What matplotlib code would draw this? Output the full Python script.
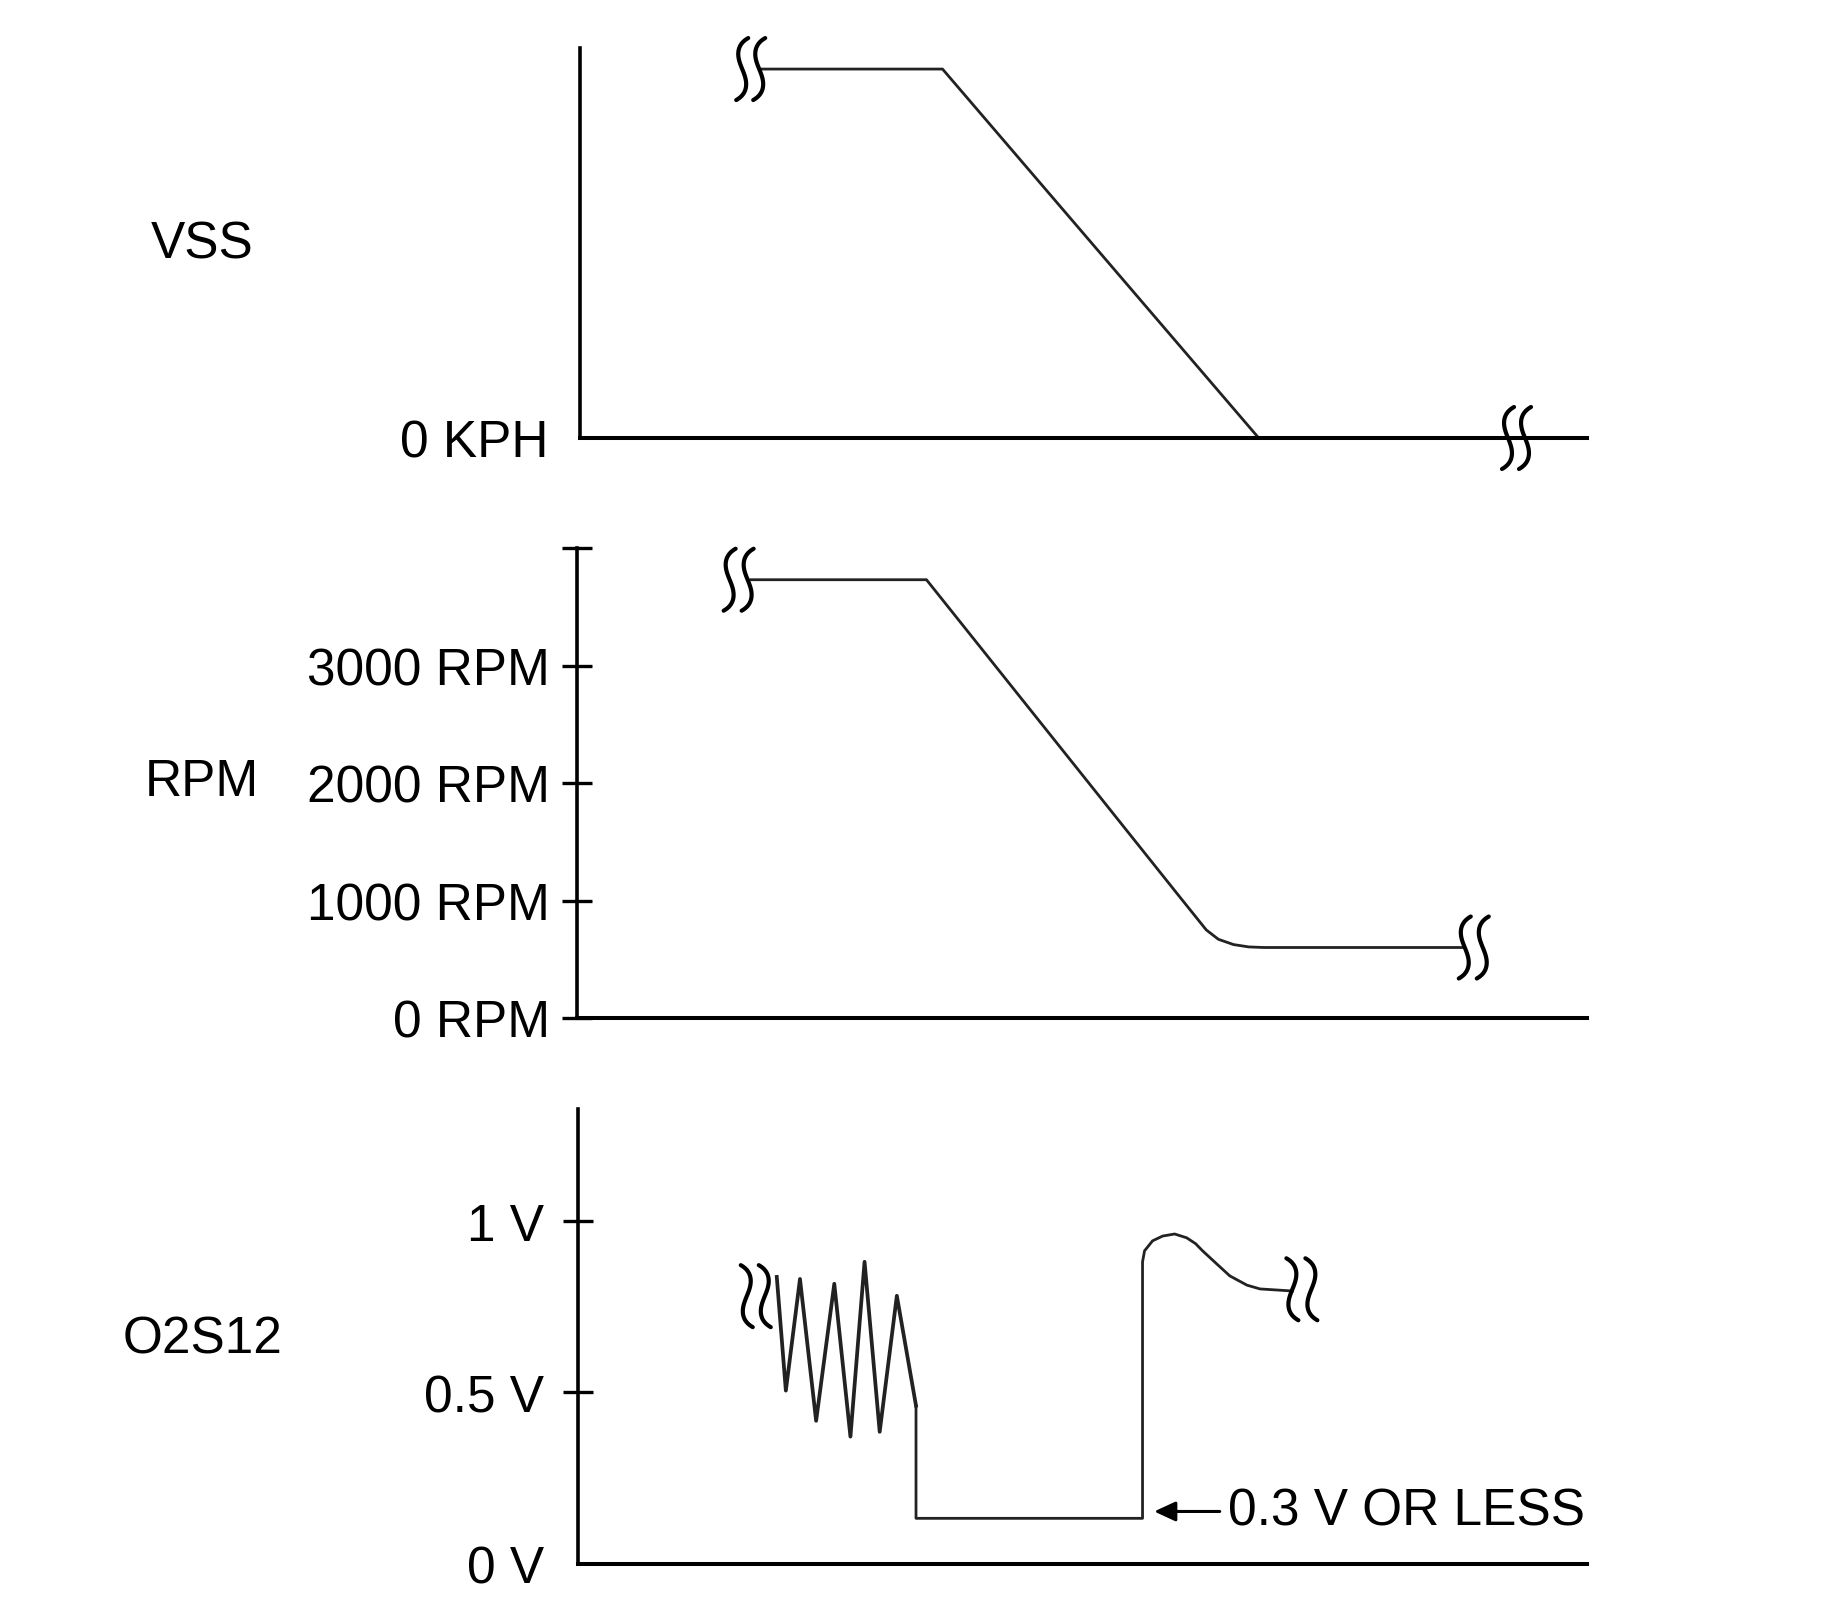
import numpy as np
import matplotlib
matplotlib.use("Agg")
import matplotlib.pyplot as plt
import matplotlib.transforms as mtransforms

plt.rcParams['font.family'] = ['Liberation Sans', 'DejaVu Sans']

# tiempo en unidades arbitrarias (0-100), comun a los tres paneles
t_vss = [18.0, 36.0, 67.4]
vss = [94.6, 94.6, 0]

t_rpm = [17.2, 34.6, 59.6, 62.3, 63.5, 65.0, 66.5, 68.0, 87.7]
rpm = [3730, 3730, 1039, 750, 670, 625, 605, 600, 600]
rpm_ticks = [0, 1000, 2000, 3000, 4000]
rpm_labels = ["0 RPM", "1000 RPM", "2000 RPM", "3000 RPM", ""]

# oscilacion del sensor O2
t_osc = [19.7, 20.6, 22.0, 23.6, 25.4, 27.0, 28.4, 29.9, 31.6, 33.5]
v_osc = [0.836, 0.505, 0.830, 0.417, 0.816, 0.371, 0.880, 0.385, 0.781, 0.461]
# caida, tramo bajo y subida
t_o2 = [33.5, 33.5, 55.95, 55.95, 56.15, 56.94, 57.94, 59.13, 60.32, 61.2, 61.9,
        63.3, 64.6, 66.3, 67.6, 70.8]
o2 = [0.461, 0.133, 0.133, 0.880, 0.912, 0.941, 0.955, 0.961, 0.950, 0.933, 0.912,
      0.874, 0.839, 0.812, 0.801, 0.795]
o2_ticks = [0, 0.5, 1]
o2_labels = ["0 V", "0.5 V", "1 V"]

W, H = 1847, 1624
fig = plt.figure(figsize=(W / 100, H / 100), dpi=100)
FS = 37


def caja(left, top, right, bottom):
    return fig.add_axes([left / W, 1 - bottom / H, (right - left) / W, (bottom - top) / H])


def estilo(ax):
    for s in ["top", "right"]:
        ax.spines[s].set_visible(False)
    ax.spines["left"].set_linewidth(2.6)
    ax.spines["bottom"].set_linewidth(2.9)
    ax.set_xlim(0, 100)
    ax.set_xticks([])
    ax.tick_params(axis='y', direction='inout', length=21, width=2.4, labelsize=FS)


def corte(ax, x, y, offsets, espejo=False):
    # dos trazos en forma de S (marca de corte), tamano fijo en pulgadas
    s = np.linspace(-1, 1, 80)
    forma = -0.04 * np.sin(np.pi * s) + 0.06 * s ** 7
    if espejo:
        forma = -forma
    tr = fig.dpi_scale_trans + mtransforms.ScaledTranslation(x, y, ax.transData)
    for dx in offsets:
        ax.plot(dx + forma, 0.31 * s, color='black', lw=3.0, transform=tr,
                clip_on=False, solid_capstyle='round')


# VSS
ax1 = caja(580, 49, 1587, 439)
estilo(ax1)
ax1.set_ylim(0, 100)
ax1.set_yticks([0])
ax1.set_yticklabels(["0 KPH"])
ax1.tick_params(axis='y', length=0, pad=23)
ax1.plot(t_vss, vss, color='#222222', lw=2.0)
corte(ax1, 17.3, 94.6, [-0.12, 0.05])
corte(ax1, 93.0, 0, [-0.085, 0.085])

# RPM
ax2 = caja(577, 549, 1587, 1019)
estilo(ax2)
ax2.set_ylim(0, 4000)
ax2.set_yticks(rpm_ticks)
ax2.set_yticklabels(rpm_labels)
ax2.tick_params(axis='y', pad=9)
ax2.plot(t_rpm, rpm, color='#222222', lw=2.0, solid_joinstyle='round')
corte(ax2, 16.4, 3730, [-0.13, 0.05])
corte(ax2, 87.7, 600, [0.02, 0.2])

# O2S12
ax3 = caja(578, 1110, 1587, 1565)
estilo(ax3)
ax3.set_ylim(0, 1.325)
ax3.set_yticks(o2_ticks)
ax3.set_yticklabels(o2_labels)
ax3.tick_params(axis='y', pad=14)
ax3.yaxis.get_major_ticks()[0].tick1line.set_visible(False)
ax3.plot(t_osc, v_osc, color='#222222', lw=2.7, solid_joinstyle='round')
ax3.plot(t_o2, o2, color='#222222', lw=2.0, solid_joinstyle='round')
corte(ax3, 19.7, 0.78, [-0.30, -0.12], espejo=True)
corte(ax3, 70.8, 0.80, [0.0, 0.19], espejo=True)
ax3.annotate('', xy=(57.1, 0.153), xytext=(63.6, 0.153),
             arrowprops=dict(arrowstyle='-|>,head_length=0.65,head_width=0.3',
                             color='black', lw=2.2, shrinkA=0, shrinkB=0,
                             mutation_scale=20))
ax3.text(64.4, 0.153, "0.3 V OR LESS", fontsize=FS, va='center', ha='left')

# rotulos de la izquierda
fig.text(202 / W, 1 - 245 / H, "VSS", fontsize=FS, ha='center', va='center')
fig.text(202 / W, 1 - 783 / H, "RPM", fontsize=FS, ha='center', va='center')
fig.text(203 / W, 1 - 1340 / H, "O2S12", fontsize=FS, ha='center', va='center')

fig.savefig("out.png", dpi=100, facecolor='white')
